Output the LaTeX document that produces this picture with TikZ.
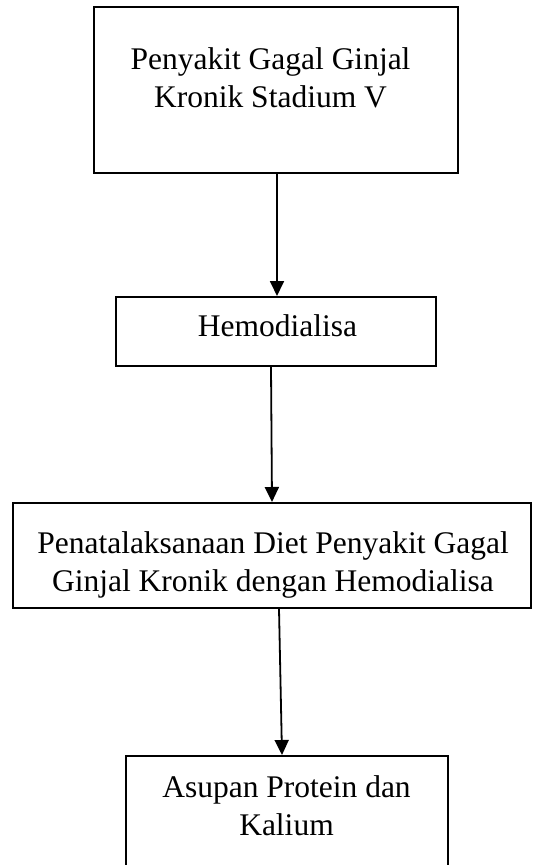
\documentclass[tikz,border=0pt]{standalone}
\usepackage{fontspec}
\setmainfont{Liberation Serif}
\usetikzlibrary{arrows.meta}
\begin{document}
\begin{tikzpicture}[x=1pt,y=-1pt,
  box/.style={draw=black, line width=2pt, rectangle, inner sep=0pt, fill=none},
  txt/.style={align=center, inner sep=0pt, font=\fontsize{31.5}{38}\selectfont},
  conn/.style={line width=1.8pt, -{Triangle[length=15pt,width=14pt]}}]
\useasboundingbox (0,0) rectangle (533,865);
\clip (0,0) rectangle (533,865);
\fill[white] (0,0) rectangle (533,865);
\node[box, minimum width=364pt, minimum height=166pt] (b1) at (276,90) {};
\node[txt] (t1) at (270.5,78) {Penyakit Gagal Ginjal\\Kronik Stadium V};
\node[box, minimum width=320pt, minimum height=69pt] (b2) at (276,331.5) {};
\node[txt] (t2) at (277.5,326) {Hemodialisa};
\node[box, minimum width=518pt, minimum height=105pt] (b3) at (272,555.5) {};
\node[txt] (t3) at (273,565) {Penatalaksanaan Diet Penyakit Gagal\\Ginjal Kronik dengan Hemodialisa};
\node[box, minimum width=322pt, minimum height=144pt] (b4) at (287,828) {};
\node[txt] (t4) at (286.5,806) {Asupan Protein dan\\Kalium};
\draw[conn] ([xshift=1pt]b1.south) -- ([xshift=1pt]b2.north);
\draw[conn] ([xshift=-5pt]b2.south) -- ([xshift=0pt]b3.north);
\draw[conn] ([xshift=7pt]b3.south) -- ([xshift=-5pt]b4.north);
\end{tikzpicture}
\end{document}
